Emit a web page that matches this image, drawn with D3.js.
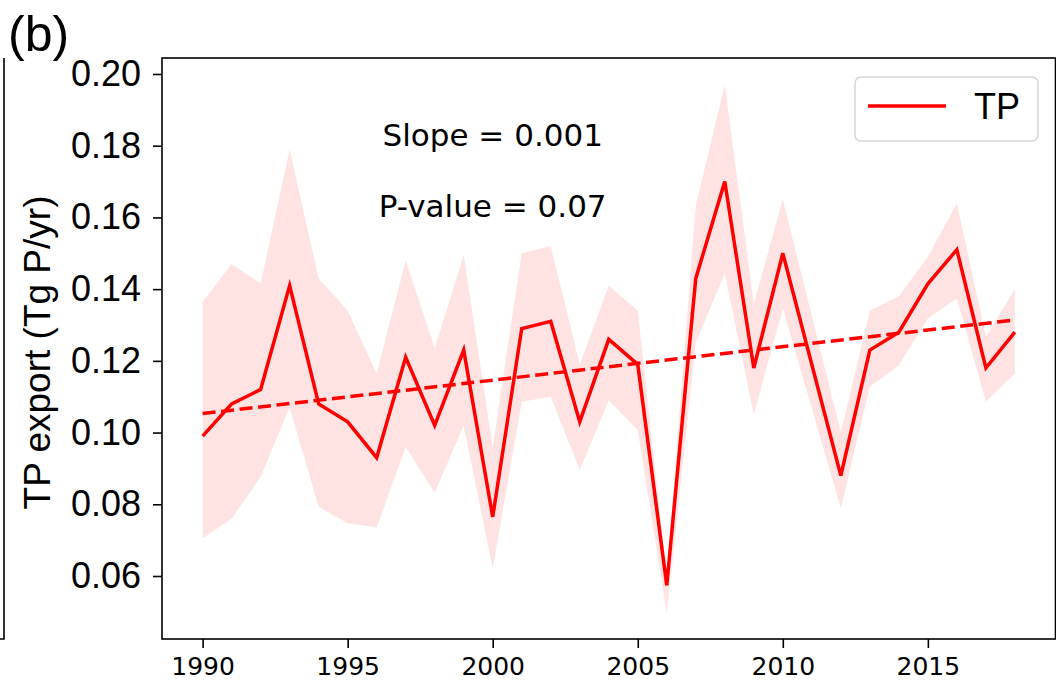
<!DOCTYPE html>
<html>
<head>
<meta charset="utf-8">
<script src="https://cdn.jsdelivr.net/npm/d3@7"></script>
<style>
  html, body { margin: 0; padding: 0; background: #fff; }
  svg { display: block; }
  .ytick text { font-family: "Liberation Sans", Arial, sans-serif; font-size: 36px; fill: #000; }
  .xtick text { font-family: "DejaVu Sans", sans-serif; font-size: 25px; fill: #000; }
  .tick line { stroke: #000; stroke-width: 1.6px; }
</style>
</head>
<body>
<svg id="chart"></svg>
<script>
// TP export per year
const years = d3.range(1990, 2019);
const tpExport = [0.099, 0.108, 0.112, 0.141, 0.108, 0.103, 0.093, 0.121, 0.102, 0.123,
  0.0765, 0.129, 0.131, 0.103, 0.126, 0.119, 0.0574, 0.143, 0.170, 0.118,
  0.150, 0.119, 0.088, 0.123, 0.128, 0.1415, 0.151, 0.118, 0.128];
const tpUpper = [0.1365, 0.147, 0.1416, 0.179, 0.143, 0.134, 0.1165, 0.148, 0.1235, 0.1495,
  0.096, 0.150, 0.152, 0.119, 0.141, 0.134, 0.060, 0.1634, 0.197, 0.136,
  0.165, 0.1325, 0.100, 0.134, 0.138, 0.149, 0.164, 0.1267, 0.140];
const tpLower = [0.0705, 0.076, 0.0876, 0.107, 0.0793, 0.0747, 0.0735, 0.096, 0.0832, 0.102,
  0.062, 0.1086, 0.110, 0.0895, 0.109, 0.1007, 0.0495, 0.125, 0.1444, 0.105,
  0.1346, 0.1067, 0.0788, 0.1128, 0.1188, 0.1318, 0.1374, 0.1086, 0.1165];

// linear trend, end points
const trendYears = [1990, 2018];
const trendValues = [0.1053, 0.1314];

const xTicks = [1990, 1995, 2000, 2005, 2010, 2015];
const yTicks = [0.06, 0.08, 0.10, 0.12, 0.14, 0.16, 0.18, 0.20];
const stats = [
  { year: 2000, value: 0.18, text: "Slope = 0.001" },
  { year: 2000, value: 0.16, text: "P-value = 0.07" }
];

const width = 1056;
const height = 683;
const plot = { left: 162, right: 1055.5, top: 58, bottom: 639 };

const xScale = d3.scaleLinear().domain([1988.6, 2019.4]).range([plot.left, plot.right]);
const yScale = d3.scaleLinear().domain([0.04243, 0.20446]).range([plot.bottom, plot.top]);

const svg = d3.select("#chart").attr("width", width).attr("height", height);

const data = years.map((yr, i) => ({ year: yr, v: tpExport[i], hi: tpUpper[i], lo: tpLower[i] }));

// clip everything drawn inside the axes box
svg.append("clipPath").attr("id", "plot-clip")
  .append("rect")
  .attr("x", plot.left).attr("y", plot.top)
  .attr("width", plot.right - plot.left).attr("height", plot.bottom - plot.top);

const inner = svg.append("g").attr("clip-path", "url(#plot-clip)");

// uncertainty band
const band = d3.area()
  .x((d) => xScale(d.year))
  .y0((d) => yScale(d.lo))
  .y1((d) => yScale(d.hi));

inner.append("path")
  .datum(data)
  .attr("d", band)
  .attr("fill", "#ff0000")
  .attr("fill-opacity", 0.11);

// main series
const valueline = d3.line()
  .x((d) => xScale(d.year))
  .y((d) => yScale(d.v));

inner.append("path")
  .datum(data)
  .attr("d", valueline)
  .attr("fill", "none")
  .attr("stroke", "#ff0000")
  .attr("stroke-width", 3.5)
  .attr("stroke-linejoin", "miter");

// trend (dashed)
inner.append("path")
  .datum(trendYears.map((yr, i) => ({ year: yr, v: trendValues[i] })))
  .attr("d", valueline)
  .attr("fill", "none")
  .attr("stroke", "#ff0000")
  .attr("stroke-width", 3.5)
  .attr("stroke-dasharray", "13,5.6");

// slope / p-value annotation
svg.selectAll("text.stat")
  .data(stats)
  .enter()
  .append("text")
  .attr("class", "stat")
  .attr("x", (d) => xScale(d.year))
  .attr("y", (d) => yScale(d.value))
  .attr("text-anchor", "middle")
  .style("font-family", "'DejaVu Sans', sans-serif")
  .style("font-size", "31px")
  .text((d) => d.text);

// axes
const yAxis = svg.append("g")
  .attr("class", "ytick")
  .attr("transform", `translate(${plot.left},0)`)
  .call(d3.axisLeft(yScale).tickValues(yTicks).tickFormat(d3.format(".2f")).tickSize(9).tickPadding(12));
yAxis.select(".domain").remove();

const xAxis = svg.append("g")
  .attr("class", "xtick")
  .attr("transform", `translate(0,${plot.bottom})`)
  .call(d3.axisBottom(xScale).tickValues(xTicks).tickFormat(d3.format("d")).tickSize(9).tickPadding(9));
xAxis.select(".domain").remove();

// axes frame
svg.append("rect")
  .attr("x", plot.left).attr("y", plot.top)
  .attr("width", plot.right - plot.left).attr("height", plot.bottom - plot.top)
  .attr("fill", "none")
  .attr("stroke", "#000")
  .attr("stroke-width", 1.6);

// Y label
svg.append("text")
  .attr("transform", `translate(50,${(plot.top + plot.bottom) / 2 + 4}) rotate(-90)`)
  .attr("text-anchor", "middle")
  .style("font-family", "'Liberation Sans', Arial, sans-serif")
  .style("font-size", "37px")
  .text("TP export (Tg P/yr)");

// legend
const legend = svg.append("g").attr("transform", "translate(855,77)");
legend.append("rect")
  .attr("width", 183).attr("height", 64)
  .attr("rx", 6)
  .attr("fill", "#fff")
  .attr("stroke", "#d6d6d6")
  .attr("stroke-width", 1.5);
legend.append("line")
  .attr("x1", 13).attr("x2", 91)
  .attr("y1", 29).attr("y2", 29)
  .attr("stroke", "#ff0000")
  .attr("stroke-width", 3.5);
legend.append("text")
  .attr("x", 119).attr("y", 42)
  .style("font-family", "'Liberation Sans', Arial, sans-serif")
  .style("font-size", "36px")
  .text("TP");

// panel letter
svg.append("text")
  .attr("x", 8).attr("y", 51)
  .style("font-family", "'Liberation Sans', Arial, sans-serif")
  .style("font-size", "50px")
  .text("(b)");

// edge of the neighbouring panel (a)
svg.append("path")
  .attr("d", `M0,${plot.bottom} H4 V${plot.top}`)
  .attr("fill", "none")
  .attr("stroke", "#000")
  .attr("stroke-width", 1.6);
</script>
</body>
</html>
